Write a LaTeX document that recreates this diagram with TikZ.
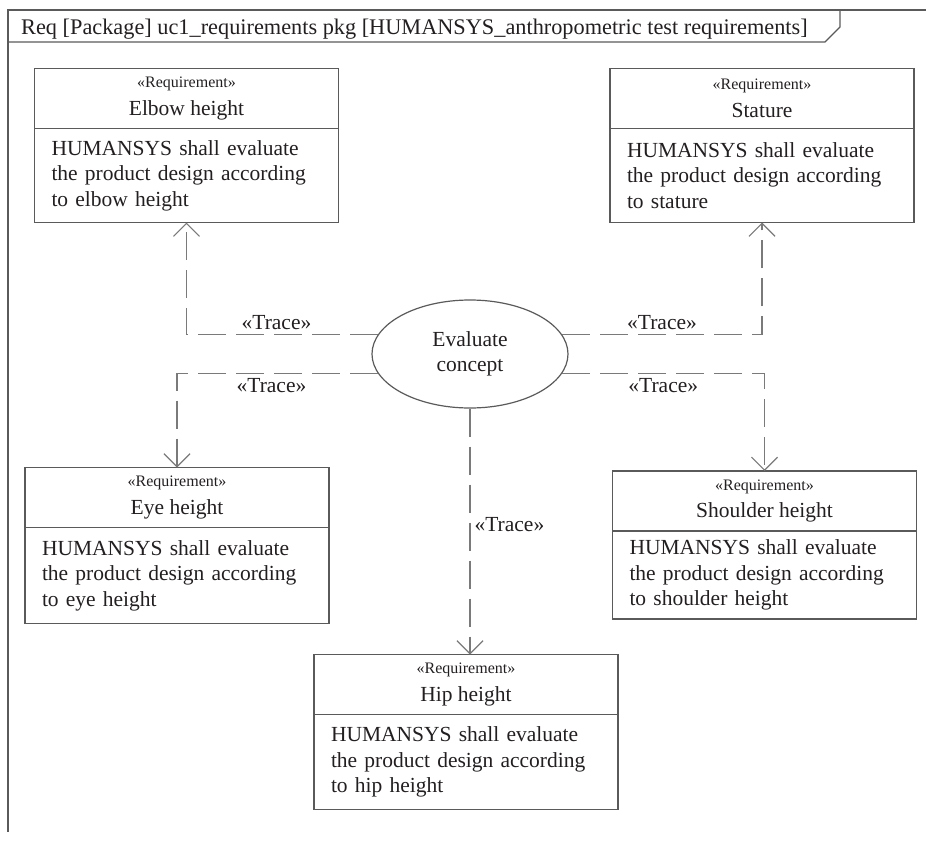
\documentclass[tikz,border=0pt]{standalone}
\usepackage{fontspec}
\setmainfont{Liberation Serif}
\usetikzlibrary{shapes.geometric,arrows.meta,positioning}

\definecolor{umlline}{HTML}{5A5A5A}
\definecolor{traceline}{HTML}{7A7A7A}
\definecolor{umltext}{HTML}{231F20}

\begin{document}
\begin{tikzpicture}[
    x=1pt, y=-1pt,
    font=\fontsize{21.5}{25.5}\selectfont,
    text=umltext,
    frame/.style={draw=umlline, line width=1.2pt},
    reqhead/.style={rectangle, draw=umlline, line width=1.2pt, outer sep=0pt, minimum width=304pt, minimum height=60pt, inner sep=0pt, align=center},
    reqbody/.style={rectangle, draw=umlline, line width=1.2pt, outer sep=0pt, minimum width=304pt, minimum height=94pt, text width=270pt, inner xsep=17pt, inner ysep=0pt, align=left},
    usecase/.style={ellipse, draw=umlline, line width=1.2pt, minimum width=196pt, minimum height=108pt, inner sep=0pt, align=center},
    trace/.style={draw=traceline, line width=1.2pt, dash pattern=on 28pt off 10pt, -{Straight Barb[length=13pt,width=26pt]}},
    tracelbl/.style={inner sep=4pt}
]
\useasboundingbox (0,0) rectangle (926,844);

% diagram frame and its name tab
\draw[frame] (926,10) -- (8,10) -- (8,832);
\draw[frame] (840,10) -- (840,27) -- (825,42) -- (8,42);
\node[anchor=base west, inner sep=0pt, font=\fontsize{22.3}{26}\selectfont] (title) at (21,34) {Req [Package] uc1\_requirements pkg [HUMANSYS\_anthropometric test requirements]};

% requirements
\node[reqhead] (elbowh) at (186.5,98.5) {{\fontsize{16}{18}\selectfont «Requirement»}\\[2pt]Elbow height};
\node[reqbody, below=0pt of elbowh] (elbow) {HUMANSYS shall evaluate\\the product design according\\to elbow height};

\node[reqhead] (statureh) at (762,98.5) {{\fontsize{16}{18}\selectfont «Requirement»}\\[2pt]Stature};
\node[reqbody, below=0pt of statureh] (stature) {HUMANSYS shall evaluate\\the product design according\\to stature};

\node[reqhead] (eyeh) at (177,497.5) {{\fontsize{16}{18}\selectfont «Requirement»}\\[2pt]Eye height};
\node[reqbody, below=0pt of eyeh, minimum height=96pt] (eye) {HUMANSYS shall evaluate\\the product design according\\to eye height};

\node[reqhead] (shoulderh) at (764.5,501) {{\fontsize{16}{18}\selectfont «Requirement»}\\[2pt]Shoulder height};
\node[reqbody, below=0pt of shoulderh, minimum height=88pt] (shoulder) {HUMANSYS shall evaluate\\the product design according\\to shoulder height};

\node[reqhead] (hiph) at (466,684.5) {{\fontsize{16}{18}\selectfont «Requirement»}\\[2pt]Hip height};
\node[reqbody, below=0pt of hiph, minimum height=95pt] (hip) {HUMANSYS shall evaluate\\the product design according\\to hip height};

% use case
\node[usecase] (eval) at (470,354) {Evaluate\\concept};

% trace relations
\draw[trace] (eval.168) -| node[tracelbl, above, pos=0.265] {«Trace»} (elbow.south);
\draw[trace] (eval.192) -| node[tracelbl, below, pos=0.265] {«Trace»} (eyeh.north);
\draw[trace] (eval.12) -| node[tracelbl, above, pos=0.25] {«Trace»} (stature.south);
\draw[trace] (eval.348) -| node[tracelbl, below, pos=0.25] {«Trace»} (shoulderh.north);
\draw[trace] (eval.south) -- node[tracelbl, right, pos=0.47] {«Trace»} (eval.south |- hiph.north);
\end{tikzpicture}
\end{document}
